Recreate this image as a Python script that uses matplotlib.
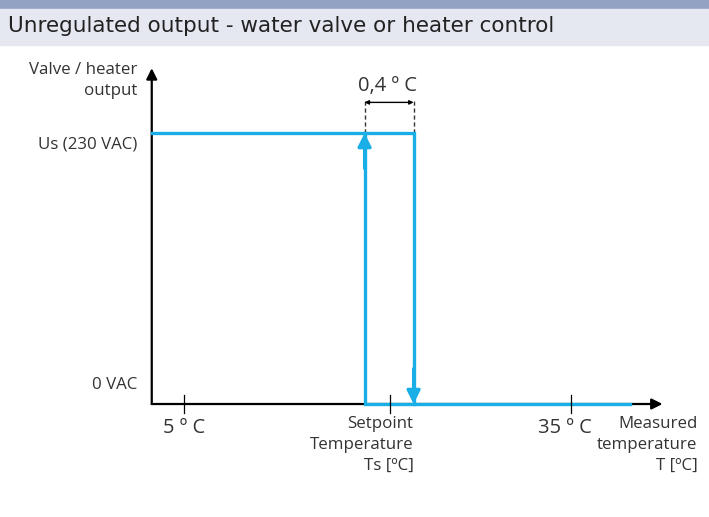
import matplotlib
matplotlib.use("Agg")
import matplotlib.pyplot as plt
from matplotlib.patches import Rectangle

# schematic values (temperature in degC, output in volts)
t_low, t_set, t_high = 5, 21, 35
t_on, t_off = 19.0, 22.8
t_end, t_axis_end = 39.6, 42.1
u_off, u_on, u_axis_end = 0, 230, 285
tick_temps = [t_low, t_set, t_high]
tick_labels = ["5 º C", "35 º C"]

blue = "#19aee6"
txt = "#333333"
lab_font = "Open Sans"

fig = plt.figure(figsize=(7.09, 5.17), dpi=100)
ax = fig.add_axes([0, 0, 1, 1])
ax.set_xlim(-9.264, 45.70)
ax.set_ylim(-95.9, 342.9)
ax.axis("off")

# header band
fig.patches.append(Rectangle((0, 1 - 8 / 517), 1, 8 / 517, transform=fig.transFigure,
                             color="#93a2c3", zorder=0))
fig.patches.append(Rectangle((0, 1 - 45 / 517), 1, 36 / 517, transform=fig.transFigure,
                             color="#e5e8f1", zorder=0))
fig.text(8 / 709, 1 - 26 / 517, "Unregulated output - water valve or heater control",
         va="center", ha="left", fontsize=15.5, color="#222222", family="DejaVu Sans")

# axes with arrows
ax.annotate("", xy=(t_axis_end, 0), xytext=(t_low - 2.5, 0),
            arrowprops=dict(arrowstyle="-|>", color="black", lw=1.6, mutation_scale=16,
                            shrinkA=0, shrinkB=0), zorder=2)
ax.annotate("", xy=(t_low - 2.5, u_axis_end), xytext=(t_low - 2.5, 0),
            arrowprops=dict(arrowstyle="-|>", color="black", lw=1.6, mutation_scale=16,
                            shrinkA=0, shrinkB=0), zorder=2)
for t in tick_temps:
    ax.plot([t, t], [-8, 8], color="black", lw=0.9, zorder=6)

# output curve
ax.plot([t_low - 2.5, t_off, t_off], [u_on, u_on, u_off], color=blue, lw=2.4,
        solid_joinstyle="miter", zorder=4)
ax.plot([t_on, t_on, t_end], [u_on, u_off, u_off], color=blue, lw=2.4,
        solid_joinstyle="miter", zorder=4)
ax.annotate("", xy=(t_on, u_on), xytext=(t_on, u_on - 30),
            arrowprops=dict(arrowstyle="-|>", color=blue, lw=2.3, mutation_scale=20,
                            shrinkA=0, shrinkB=0), zorder=5)
ax.annotate("", xy=(t_off, u_off), xytext=(t_off, u_off + 30),
            arrowprops=dict(arrowstyle="-|>", color=blue, lw=2.3, mutation_scale=20,
                            shrinkA=0, shrinkB=0), zorder=5)

# hysteresis dimension
for t in (t_on, t_off):
    ax.plot([t, t], [u_on, u_on + 27], color="#333333", lw=1, ls=(0, (3, 2)), zorder=3)
ax.annotate("", xy=(t_on, u_on + 26), xytext=(t_off, u_on + 26),
            arrowprops=dict(arrowstyle="<|-|>", color="black", lw=1, mutation_scale=6,
                            shrinkA=0, shrinkB=0))
ax.text((t_on + t_off) / 2 - 0.1, u_on + 40, "0,4 º C", ha="center", va="center",
        fontsize=14.5, color=txt, family=lab_font)

# labels
ax.text(t_low - 3.6, u_axis_end + 5, "Valve / heater\noutput", ha="right", va="top",
        fontsize=12.2, color=txt, family=lab_font, linespacing=1.4)
ax.text(t_low - 3.6, u_on - 10, "Us (230 VAC)", ha="right", va="center",
        fontsize=12.2, color=txt, family=lab_font)
ax.text(t_low - 3.6, 16, "0 VAC", ha="right", va="center",
        fontsize=12.2, color=txt, family=lab_font)
ax.text(t_low, -20, tick_labels[0], ha="center", va="center", fontsize=14.5,
        color=txt, family=lab_font)
ax.text(t_high - 0.5, -20, tick_labels[1], ha="center", va="center", fontsize=14.5,
        color=txt, family=lab_font)
ax.text(t_off, -10, "Setpoint\nTemperature\nTs [ºC]", ha="right", va="top",
        fontsize=12.2, color=txt, family=lab_font, linespacing=1.4)
ax.text(t_axis_end + 2.7, -10, "Measured\ntemperature\nT [ºC]", ha="right", va="top",
        fontsize=12.2, color=txt, family=lab_font, linespacing=1.4)

fig.savefig("out.png", dpi=100)
